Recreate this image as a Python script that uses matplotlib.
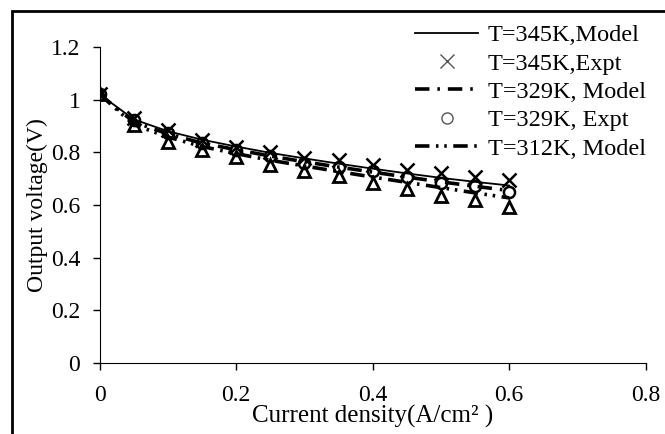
import numpy as np
from matplotlib import pyplot as plt
from matplotlib.patches import Rectangle
from matplotlib.ticker import FuncFormatter

plt.rcParams['font.family'] = ['Liberation Serif', 'DejaVu Serif']

# current density (A/cm2)
current = [0, 0.05, 0.1, 0.15, 0.2, 0.25, 0.3, 0.35, 0.4, 0.45, 0.5, 0.55, 0.6]

model_345 = [1.02, 0.925, 0.88, 0.848, 0.822, 0.798, 0.777, 0.757, 0.738, 0.72, 0.703, 0.688, 0.674]
expt_345 = [1.02, 0.93, 0.885, 0.845, 0.82, 0.80, 0.78, 0.77, 0.752, 0.733, 0.72, 0.708, 0.695]
model_329 = [1.02, 0.915, 0.87, 0.835, 0.81, 0.786, 0.764, 0.744, 0.725, 0.706, 0.688, 0.671, 0.655]
expt_329 = [1.02, 0.923, 0.873, 0.837, 0.81, 0.785, 0.761, 0.746, 0.73, 0.707, 0.685, 0.672, 0.651]
model_312 = [1.02, 0.905, 0.858, 0.822, 0.795, 0.77, 0.748, 0.727, 0.706, 0.686, 0.666, 0.646, 0.627]
expt_312 = [1.02, 0.904, 0.84, 0.81, 0.784, 0.752, 0.73, 0.71, 0.682, 0.66, 0.634, 0.619, 0.594]

labels = ['T=345K,Model', 'T=345K,Expt', 'T=329K, Model', 'T=329K, Expt', 'T=312K, Model']

fig = plt.figure(figsize=(6.65, 4.34), dpi=100)
ax = fig.add_axes([0.150, 0.1636, 0.821, 0.7281])

ax.plot(current, model_345, '-', c='black', lw=1.3, label=labels[0])
ax.plot(current, expt_345, 'x', c='black', ms=10, mew=1.8, label=labels[1])
ax.plot(current, model_329, c='black', lw=2.6, linestyle=(0, (4, 2.2, 0.7, 2.2)), label=labels[2])
ax.plot(current, expt_329, 'o', mfc='none', mec='black', ms=8, mew=1.8, label=labels[3])
ax.plot(current, model_312, c='black', lw=2.6, linestyle=(0, (4, 1.8, 0.7, 1.6, 0.7, 1.8)), label=labels[4])
ax.plot(current, expt_312, '^', mfc='none', mec='black', ms=9, mew=2, label='_nolegend_')

ax.set_xlim(0, 0.8)
ax.set_ylim(0, 1.2)
ax.set_xticks([0, 0.2, 0.4, 0.6, 0.8])
ax.set_yticks([0, 0.2, 0.4, 0.6, 0.8, 1.0, 1.2])
fmt = FuncFormatter(lambda v, p: '%g' % round(v, 2))
ax.xaxis.set_major_formatter(fmt)
ax.yaxis.set_major_formatter(fmt)
ax.tick_params(direction='out', length=5, width=1, labelsize=17)
ax.tick_params(axis='y', pad=9)
ax.tick_params(axis='x', pad=11)
ax.spines['top'].set_visible(False)
ax.spines['right'].set_visible(False)

ax.set_xlabel('Current density(A/cm\u00b2 )', fontsize=18, labelpad=-1)
ax.set_ylabel('Output voltage(V)', fontsize=17, labelpad=2)

leg = ax.legend(loc='upper left', bbox_to_anchor=(0.624, 0.944), bbox_transform=fig.transFigure,
                frameon=False, fontsize=17.5, labelspacing=0.26, handlelength=2.6,
                handletextpad=0.4, borderpad=0, borderaxespad=0)
leg.legend_handles[1].set_color('#555555')
leg.legend_handles[1].set_markeredgewidth(1)
leg.legend_handles[3].set_markeredgecolor('#555555')
leg.legend_handles[3].set_markeredgewidth(1)

# black frame round the figure, cut at right and bottom
fig.add_artist(Rectangle((0.018, -0.2), 1.2, 1.175, transform=fig.transFigure,
                         fill=False, ec='black', lw=2))

plt.savefig('out.png', dpi=100)
